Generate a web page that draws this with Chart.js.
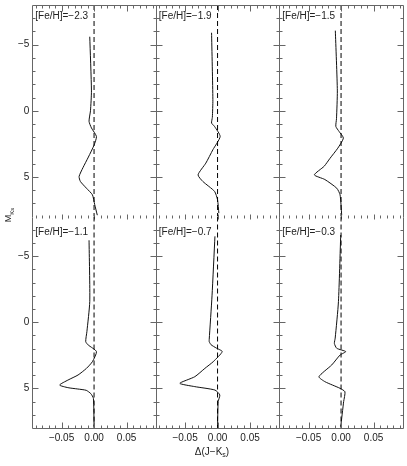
<!DOCTYPE html>
<html>
<head>
<meta charset="utf-8">
<script src="https://cdn.jsdelivr.net/npm/chart.js@4.4.1/dist/chart.umd.min.js"></script>
<style>
body { margin: 0; background: #fff; }
#wrap { position: relative; width: 407px; height: 466px; }
#wrap canvas { position: absolute; left: 0; top: 0; }
</style>
</head>
<body>
<div id="wrap"></div>
<script>
// metallicity of each panel, row by row
const fehLabels = ['[Fe/H]=\u22122.3', '[Fe/H]=\u22121.9', '[Fe/H]=\u22121.5',
                   '[Fe/H]=\u22121.1', '[Fe/H]=\u22120.7', '[Fe/H]=\u22120.3'];

// M_Ks and Delta(J-Ks) along each curve
const mag_m23 = [-5.6, -1.5, 0.0, 0.8, 1.3, 1.95, 2.6, 3.5, 4.3, 4.97, 5.35, 5.86, 6.36, 7.1, 7.9];
const djk_m23 = [-0.0066, -0.004, -0.0055, -0.0077, -0.004, 0.0037, 0.0, -0.0087, -0.017, -0.023, -0.021, -0.0117, -0.0025, 0.001, 0.005];

const mag_m19 = [-5.9, -0.84, 0.5, 0.93, 1.19, 1.95, 2.95, 3.96, 4.85, 5.35, 6.1, 6.74, 7.75];
const djk_m19 = [-0.0092, -0.0072, -0.008, -0.0092, -0.0046, 0.004, -0.0072, -0.018, -0.030, -0.0226, -0.0046, 0.0, 0.002];

const mag_m15 = [-6.06, -1.5, 0.6, 1.19, 1.57, 2.07, 2.83, 3.6, 4.2, 4.85, 5.2, 5.86, 6.36, 7.9];
const djk_m15 = [-0.0088, -0.0057, -0.007, -0.008, -0.003, 0.0036, -0.005, -0.017, -0.026, -0.041, -0.025, -0.0066, -0.0015, 0.001];

const mag_m11 = [-6.2, -1.56, 0.71, 1.47, 1.72, 2.22, 2.98, 3.49, 3.99, 4.37, 4.75, 4.95, 5.05, 5.15, 5.4, 5.76, 7.9];
const djk_m11 = [-0.0077, -0.0066, -0.011, -0.0128, -0.009, 0.0037, -0.0025, -0.0117, -0.0246, -0.040, -0.053, -0.04, -0.025, -0.012, -0.005, -0.001, 0.0];

const mag_m07 = [-6.5, -2.0, 1.3, 1.47, 1.7, 1.95, 2.22, 2.98, 3.49, 4.12, 4.62, 4.87, 5.13, 5.5, 6.0, 7.9];
const djk_m07 = [-0.004, -0.0085, -0.0128, -0.0128, -0.01, -0.002, 0.0072, -0.0066, -0.0195, -0.035, -0.058, -0.035, -0.004, 0.0035, 0.001, 0.0];

const mag_m03 = [-6.6, -1.56, 1.2, 1.6, 1.97, 2.22, 2.48, 3.23, 4.12, 4.5, 5.0, 5.26, 6.0, 7.9];
const djk_m03 = [-0.0005, -0.004, -0.009, -0.0103, -0.0066, 0.0072, -0.0015, -0.0143, -0.034, -0.0246, -0.0015, 0.006, 0.004, -0.0005];

// zero reference line
const zeroMag = [-8, 8];
const zeroDjk = [0, 0];

// tick labels
const xTicks = [-0.05, 0, 0.05];
const xTickLabels = ['\u22120.05', '0.00', '0.05'];
const yTicks = [-5, 0, 5];
const yTickLabels = ['\u22125', '0', '5'];

const mags = [mag_m23, mag_m19, mag_m15, mag_m11, mag_m07, mag_m03];
const djks = [djk_m23, djk_m19, djk_m15, djk_m11, djk_m07, djk_m03];

const W = 407, H = 466;
const panelLeft = 32.3, panelW = 123.5;
const panelTops = [5, 216.5], panelH = 211.5;
const font = '"Liberation Sans", Arial, sans-serif';

const toPoints = (m, d) => m.map((v, i) => ({x: d[i], y: v}));

const panelFrame = {
  id: 'panelFrame',
  afterDraw(chart, args, opts) {
    const {ctx, chartArea: a, scales: {x, y}} = chart;
    ctx.save();
    ctx.strokeStyle = '#666';
    ctx.lineWidth = 1;
    const L = Math.round(a.left) + 0.5, R = Math.round(a.right) + 0.5;
    const T = Math.round(a.top) + 0.5, B = Math.round(a.bottom) + 0.5;
    ctx.beginPath();
    ctx.moveTo(L, T); ctx.lineTo(L, B);
    ctx.moveTo(R, T); ctx.lineTo(R, B);
    // the shared edge between the two rows carries ticks only
    if (opts.row === 0) { ctx.moveTo(L, T); ctx.lineTo(R, T); }
    if (opts.row === 1) { ctx.moveTo(L, B); ctx.lineTo(R, B); }
    for (let i = -9; i <= 9; i++) {
      const px = Math.round(x.getPixelForValue(i / 100)) + 0.5;
      const len = i % 5 === 0 ? 6 : 3;
      if (opts.row === 1) {
        ctx.moveTo(px, B); ctx.lineTo(px, B - len);
      } else {
        ctx.moveTo(px, T); ctx.lineTo(px, T + len);
        const up = i % 5 === 0 ? 3 : 2;
        ctx.moveTo(px, B - up); ctx.lineTo(px, B + up - 1);
      }
    }
    for (let i = -7; i <= 7; i++) {
      const py = Math.round(y.getPixelForValue(i)) + 0.5;
      const len = i % 5 === 0 ? 6 : 3;
      ctx.moveTo(L, py); ctx.lineTo(L + len, py);
      ctx.moveTo(R, py); ctx.lineTo(R - len, py);
    }
    ctx.stroke();

    ctx.fillStyle = '#222';
    ctx.font = '10px ' + font;
    ctx.textBaseline = 'middle';
    ctx.textAlign = 'left';
    ctx.fillText(opts.label, a.left + 3, opts.row === 0 ? a.top + 11 : a.top + 15.5);

    if (opts.col === 0) {
      ctx.textAlign = 'right';
      yTicks.forEach((v, i) => ctx.fillText(yTickLabels[i], a.left - 3, y.getPixelForValue(v)));
    }
    if (opts.row === 1) {
      ctx.textAlign = 'center';
      xTicks.forEach((v, i) => ctx.fillText(xTickLabels[i], x.getPixelForValue(v), a.bottom + 10));
    }
    if (opts.row === 1 && opts.col === 1) {
      // x axis title with subscript
      const cx = 212, cy = 452;
      ctx.textAlign = 'left';
      ctx.font = '10px ' + font;
      const main = '\u0394(J\u2212K';
      const wMain = ctx.measureText(main).width;
      ctx.font = '7px ' + font;
      const wSub = ctx.measureText('s').width;
      ctx.font = '10px ' + font;
      const wEnd = ctx.measureText(')').width;
      let sx = cx - (wMain + wSub + wEnd) / 2;
      ctx.fillText(main, sx, cy);
      sx += wMain;
      ctx.font = '7px ' + font;
      ctx.fillText('s', sx, cy + 3);
      sx += wSub;
      ctx.font = '10px ' + font;
      ctx.fillText(')', sx, cy);
    }
    if (opts.row === 0 && opts.col === 0) {
      // y axis title, rotated
      ctx.translate(9, 215);
      ctx.rotate(-Math.PI / 2);
      ctx.textAlign = 'left';
      ctx.font = '9px ' + font;
      const wM = ctx.measureText('M').width;
      ctx.font = '6px ' + font;
      const wK = ctx.measureText('Ks').width;
      const sx = -(wM + wK) / 2;
      ctx.font = '9px ' + font;
      ctx.fillText('M', sx, 0);
      ctx.font = '6px ' + font;
      ctx.fillText('Ks', sx + wM, 3);
    }
    ctx.restore();
  }
};

const wrap = document.getElementById('wrap');

for (let p = 0; p < 6; p++) {
  const row = Math.floor(p / 3), col = p % 3;
  const left = panelLeft + col * panelW;
  const top = panelTops[row];
  const canvas = document.createElement('canvas');
  canvas.width = W;
  canvas.height = H;
  wrap.appendChild(canvas);

  new Chart(canvas, {
    type: 'scatter',
    data: {
      datasets: [
        {
          data: toPoints(zeroMag, zeroDjk),
          showLine: true,
          borderColor: '#000',
          borderWidth: 1,
          borderDash: [5, 3],
          pointRadius: 0
        },
        {
          data: toPoints(mags[p], djks[p]),
          showLine: true,
          borderColor: '#111',
          borderWidth: 1,
          tension: 0.2,
          pointRadius: 0
        }
      ]
    },
    options: {
      responsive: false,
      animation: false,
      events: [],
      layout: {
        autoPadding: false,
        padding: {left: left, top: top, right: W - left - panelW, bottom: H - top - panelH}
      },
      scales: {
        x: {type: 'linear', min: -0.095, max: 0.095, display: false},
        y: {type: 'linear', min: -8, max: 8, reverse: true, display: false}
      },
      plugins: {
        legend: {display: false},
        tooltip: {enabled: false},
        panelFrame: {row: row, col: col, label: fehLabels[p]}
      }
    },
    plugins: [panelFrame]
  });
}
</script>
</body>
</html>
